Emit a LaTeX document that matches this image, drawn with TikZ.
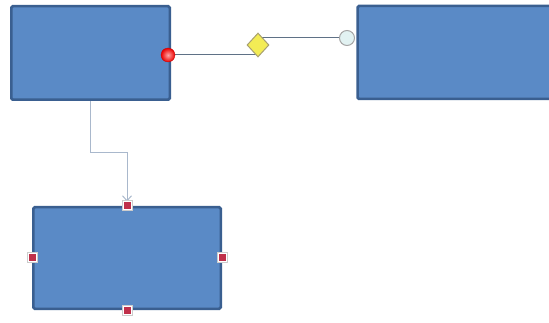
\documentclass[tikz,border=0pt]{standalone}
\usetikzlibrary{shapes.geometric,arrows.meta,backgrounds}
\definecolor{boxfill}{HTML}{5A8AC6}
\definecolor{boxline}{HTML}{3A5F90}
\definecolor{conn}{HTML}{A9B8CC}
\definecolor{dline}{HTML}{5F7186}
\definecolor{handred}{HTML}{C0304A}
\definecolor{dfill}{HTML}{F3EC55}
\definecolor{dline2}{HTML}{A8A070}
\definecolor{cfill}{HTML}{E2F2F2}
\tikzset{
  box/.style={draw=boxline, fill=boxfill, line width=2.5pt, rounded corners=1.5pt, inner sep=0pt},
  handle/.style={draw=gray!40, fill=white, line width=1pt, minimum size=10pt, inner sep=0pt,
     path picture={\fill[handred] ([shift={(-3.5pt,-3.5pt)}]path picture bounding box.center) rectangle ++(7pt,7pt);}},
  redball/.style={circle, minimum size=14pt, inner sep=0pt, shading=radial, inner color=red!35!white, outer color=red!92!black, draw=red!80!black, line width=0.3pt},
  cmark/.style={circle, minimum size=15pt, inner sep=0pt, fill=cfill, draw=gray!70, line width=1pt},
  dmark/.style={diamond, minimum width=22pt, minimum height=24pt, inner sep=0pt, fill=dfill, draw=dline2, line width=1pt},
  wire/.style={draw=dline, line width=1pt},
  elbow/.style={draw=conn, line width=1pt}
}
\begin{document}
\begin{tikzpicture}[x=1pt,y=-1pt]
\useasboundingbox (0,0) rectangle (549,323);
\clip (0,0) rectangle (549,323);
\node[box, minimum width=158.5pt, minimum height=93.5pt] (A) at (90.5,53) {};
\node[box, minimum width=205pt, minimum height=93pt] (B) at (460,52.5) {};
\node[box, minimum width=187.5pt, minimum height=101.5pt] (C) at (127,258) {};
\node[redball] (r) at (168,55) {};
\node[dmark] (d) at (258,45) {};
\node[cmark] (c) at (347,38) {};
\node[handle] (h1) at (C.north) {};
\node[handle] (h2) at (C.west) {};
\node[handle] (h3) at (C.east) {};
\node[handle] (h4) at (C.south) {};
\begin{scope}[on background layer]
\draw[wire] (r.center) -- (r.center -| d.center);
\draw[wire] (c.center) -- (c.center -| d.center);
\draw[elbow, -{Straight Barb[length=5pt,width=9pt]}] (A.south) -- ++(0,52) -| ([yshift=-1pt]h1.north);
\end{scope}
\end{tikzpicture}
\end{document}
